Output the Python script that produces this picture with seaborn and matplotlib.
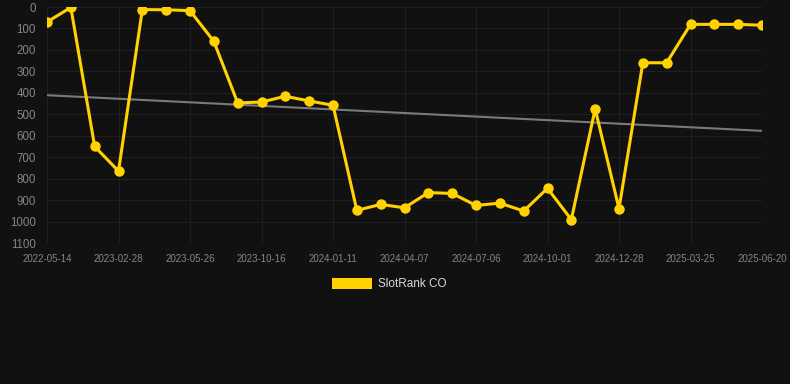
import numpy as np
import pandas as pd
import matplotlib
matplotlib.use("Agg")
import matplotlib.pyplot as plt
import seaborn as sns
from matplotlib.patches import Patch

# data
ranks = [70, 2, 650, 765, 12, 13, 17, 160, 447, 443, 416, 438, 458, 948, 920,
         936, 865, 869, 925, 914, 951, 845, 991, 475, 940, 260, 260, 81, 81, 81, 85]
tick_labels = ["2022-05-14", "2023-02-28", "2023-05-26", "2023-10-16", "2024-01-11",
               "2024-04-07", "2024-07-06", "2024-10-01", "2024-12-28", "2025-03-25",
               "2025-06-20"]
series_name = "SlotRank CO"

BG = "#111111"
GOLD = "#FFD200"
GRID = "#1f1f1f"
TXT = "#858585"

df = pd.DataFrame({"idx": np.arange(len(ranks)), "rank": ranks})

sns.set_theme(style="dark")
plt.rcParams["font.family"] = ["Liberation Sans", "DejaVu Sans"]

fig = plt.figure(figsize=(7.9, 3.84), dpi=100, facecolor=BG)
ax = fig.add_axes([47 / 790, 1 - 243 / 384, (762 - 47) / 790, (243 - 7) / 384])
ax.set_facecolor(BG)

# trend line
sns.regplot(data=df, x="idx", y="rank", scatter=False, ci=None, ax=ax,
            line_kws=dict(color="#7a7a7a", lw=1.5, zorder=2))

sns.lineplot(data=df, x="idx", y="rank", ax=ax, color=GOLD, lw=2.2,
             marker="o", markersize=7.5, markeredgewidth=0, zorder=3)

ax.set_xlim(0, len(ranks) - 1)
ax.set_ylim(1100, 0)
ax.set_yticks(range(0, 1101, 100))
ax.set_xticks(range(0, len(ranks), 3))
ax.set_xticklabels(tick_labels)
ax.tick_params(axis="y", colors=TXT, labelsize=8.3, length=0, pad=8)
ax.tick_params(axis="x", colors=TXT, labelsize=7, length=0, pad=8)
ax.grid(True, color=GRID, lw=0.8)
ax.set_xlabel("")
ax.set_ylabel("")
for s in ax.spines.values():
    s.set_visible(False)

fig.legend(handles=[Patch(facecolor=GOLD, edgecolor="none", label=series_name)],
           loc="center", bbox_to_anchor=(0.4924, 1 - 284 / 384), frameon=False,
           handlelength=3.4, handleheight=1.1, fontsize=8.5, labelcolor="#d8d8d8",
           handletextpad=0.5)

fig.savefig("out.png", dpi=100, facecolor=BG)
